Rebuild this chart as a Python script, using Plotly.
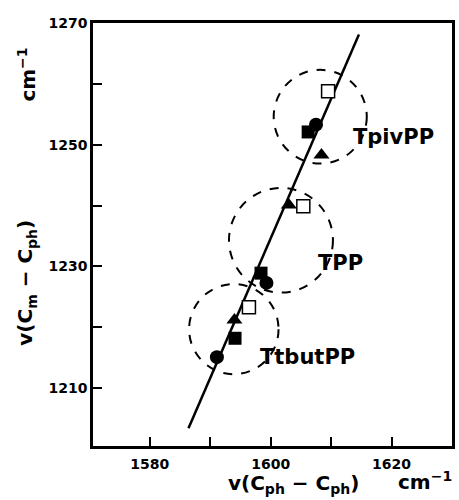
import plotly.graph_objects as go

# ---- data ----
groups = ["TtbutPP", "TPP", "TpivPP"]
circle_x = [1591.1, 1599.3, 1607.5]
circle_y = [1215.1, 1227.3, 1253.3]
fsquare_x = [1594.1, 1598.4, 1606.2]
fsquare_y = [1218.2, 1228.9, 1252.1]
triangle_x = [1594.0, 1603.0, 1608.4]
triangle_y = [1221.2, 1240.1, 1248.3]
osquare_x = [1596.4, 1605.4, 1609.5]
osquare_y = [1223.3, 1239.9, 1258.8]

fit_x = [1586.4, 1614.6]
fit_y = [1203.4, 1268.1]

group_cx = [1593.9, 1601.7, 1608.2]
group_cy = [1219.7, 1234.3, 1254.6]
group_r = [7.4, 8.6, 7.7]
label_x = [1597.9, 1607.5, 1613.3]
label_y = [1215.1, 1230.6, 1251.3]

x_ticks = [1580, 1600, 1620]
x_minor_ticks = [1590, 1610]
y_ticks = [1210, 1230, 1250, 1270]
y_minor_ticks = [1220, 1240, 1260]

FONT = "DejaVu Sans"

fig = go.Figure()

fig.add_trace(go.Scatter(x=fit_x, y=fit_y, mode="lines",
                         line=dict(color="black", width=2.5), showlegend=False))

for gx, gy, gr in zip(group_cx, group_cy, group_r):
    fig.add_shape(type="circle", xref="x", yref="y",
                  x0=gx - gr, x1=gx + gr, y0=gy - gr, y1=gy + gr,
                  line=dict(color="black", width=2, dash="dash"))

fig.add_trace(go.Scatter(x=osquare_x, y=osquare_y, mode="markers",
                         marker=dict(symbol="square", size=13, color="white",
                                     line=dict(color="black", width=1.5)),
                         showlegend=False))
fig.add_trace(go.Scatter(x=triangle_x, y=triangle_y, mode="markers",
                         marker=dict(symbol="triangle-up", size=14, color="black"),
                         showlegend=False))
fig.add_trace(go.Scatter(x=fsquare_x, y=fsquare_y, mode="markers",
                         marker=dict(symbol="square", size=13, color="black"),
                         showlegend=False))
fig.add_trace(go.Scatter(x=circle_x, y=circle_y, mode="markers",
                         marker=dict(symbol="circle", size=14, color="black"),
                         showlegend=False))

for name, lx, ly in zip(groups, label_x, label_y):
    fig.add_annotation(x=lx, y=ly, xref="x", yref="y", text="<b>%s</b>" % name,
                       showarrow=False, xanchor="left", yanchor="middle",
                       font=dict(family=FONT, size=21, color="black"))

title_font = dict(family=FONT, size=20, color="black")
fig.add_annotation(xref="paper", yref="paper", x=0.558, y=-0.09,
                   text="<b>v(C<sub>ph</sub> − C<sub>ph</sub>)</b>",
                   showarrow=False, xanchor="center", yanchor="middle", font=title_font)
fig.add_annotation(xref="paper", yref="paper", x=0.925, y=-0.082,
                   text="<b>cm<sup>−1</sup></b>",
                   showarrow=False, xanchor="center", yanchor="middle", font=title_font)
fig.add_annotation(xref="paper", yref="paper", x=-0.185, y=0.385,
                   text="<b>v(C<sub>m</sub> − C<sub>ph</sub>)</b>", textangle=-90,
                   showarrow=False, xanchor="center", yanchor="middle", font=title_font)
fig.add_annotation(xref="paper", yref="paper", x=-0.185, y=0.877,
                   text="<b>cm<sup>−1</sup></b>", textangle=-90,
                   showarrow=False, xanchor="center", yanchor="middle", font=title_font)

axis_common = dict(showgrid=False, zeroline=False, showline=True, mirror=True,
                   linecolor="black", linewidth=2.5, ticks="inside", ticklen=9,
                   tickwidth=2, tickcolor="black",
                   tickfont=dict(family=FONT, size=14, color="black", weight="bold"))

fig.update_xaxes(range=[1570.6, 1630], tickmode="array", tickvals=x_ticks,
                 minor=dict(tickmode="array", tickvals=x_minor_ticks, ticks="inside",
                            ticklen=9, tickwidth=2, tickcolor="black", showgrid=False),
                 ticklabelstandoff=3, **axis_common)
fig.update_yaxes(range=[1200.5, 1270], tickmode="array", tickvals=y_ticks,
                 minor=dict(tickmode="array", tickvals=y_minor_ticks, ticks="inside",
                            ticklen=9, tickwidth=2, tickcolor="black", showgrid=False),
                 ticklabelstandoff=0, **axis_common)

fig.update_layout(width=459, height=500,
                  margin=dict(l=93, r=4, t=23, b=54),
                  paper_bgcolor="white", plot_bgcolor="white",
                  showlegend=False)

fig.write_html("out.html", config={"displayModeBar": False},
               post_script="document.body.style.margin='0';document.body.style.overflow='hidden';")
